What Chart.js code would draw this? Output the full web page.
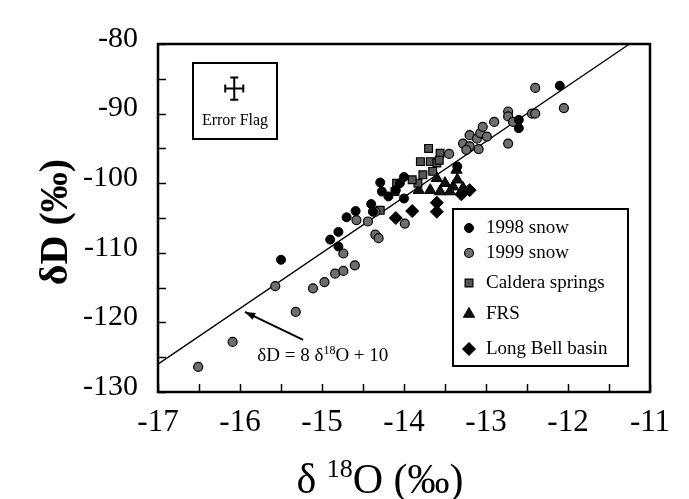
<!DOCTYPE html>
<html>
<head>
<meta charset="utf-8">
<script src="https://cdn.jsdelivr.net/npm/chart.js@4/dist/chart.umd.min.js"></script>
<style>
  body { margin: 0; background: #fff; }
  canvas { display: block; }
</style>
</head>
<body>
<canvas id="iso" width="689" height="499"></canvas>
<script>
// d18O (x) / dD (y) pairs
const snow98X = [-12.1, -12.6, -12.6, -13.35, -14.0, -14.0, -14.1, -14.19, -14.27, -14.29, -14.38, -14.4, -14.59, -14.7, -14.8, -14.9, -14.8, -15.5, -14.05];
const snow98Y = [-86.0, -90.9, -92.1, -97.6, -99.1, -102.2, -101.0, -101.9, -101.2, -99.9, -104.1, -103.0, -104.0, -104.9, -107.0, -108.1, -109.1, -111.0, -100.0];

const snow99X = [-16.51, -16.09, -15.57, -15.32, -15.11, -14.97, -14.84, -14.74, -14.6, -14.74, -14.35, -14.31, -14.58, -14.44, -13.99, -14.35,
  -13.28, -13.2, -13.11, -13.07, -12.99, -13.2, -13.09, -13.24, -13.04, -12.9, -12.73, -12.73, -12.67, -12.73, -12.44, -12.4, -12.4, -12.05, -13.45];
const snow99Y = [-126.4, -122.8, -114.8, -118.5, -115.1, -114.2, -113.0, -112.6, -111.8, -110.1, -107.4, -107.9, -105.3, -105.5, -105.8, -104.1,
  -94.3, -93.1, -93.6, -92.8, -93.3, -94.7, -95.1, -95.2, -91.9, -91.2, -89.7, -90.4, -91.2, -94.3, -90.0, -90.0, -86.3, -89.2, -95.8];

const calderaX = [-13.7, -13.56, -13.8, -13.68, -13.6, -13.77, -13.83, -14.09, -14.11, -14.29, -13.65, -13.9, -13.57];
const calderaY = [-95.0, -95.7, -96.9, -96.9, -97.1, -98.8, -100.0, -100.0, -101.2, -103.9, -98.3, -99.5, -96.7];

const frsX = [-13.36, -13.6, -13.5, -13.4, -13.28, -13.56, -13.44, -13.68, -13.82, -13.35];
const frsY = [-98.1, -99.3, -100.0, -100.5, -100.7, -101.2, -101.2, -101.0, -101.0, -99.5];

const longBellX = [-14.1, -13.9, -13.6, -13.6, -13.2, -13.3];
const longBellY = [-105.0, -104.0, -104.1, -102.8, -101.0, -101.6];

// meteoric water line dD = 8 d18O + 10, end points
const mwlX = [-17, -11.25];
const mwlY = [-126, -80];

// error flag (centre and half widths) and equation label spots
const errFlag = { x: -16.07, y: -86.4, dx: 0.11, dy: 1.6 };
const arrowTip = [-15.94, -118.5];
const arrowTail = [-15.23, -122.5];
const eqnAt = [-14.99, -124.7];

const xTicks = [-17, -16, -15, -14, -13, -12, -11];
const yTicks = [-80, -90, -100, -110, -120, -130];

const pts = (xs, ys) => xs.map((x, i) => ({ x: x, y: ys[i] }));
const serif = "'Liberation Serif', 'Times New Roman', serif";

const framePlugin = {
  id: "frame",
  beforeDatasetsDraw(chart) {
    const ctx = chart.ctx, a = chart.chartArea;
    const xs = chart.scales.x, ys = chart.scales.y;
    ctx.save();
    ctx.strokeStyle = "#000";
    ctx.lineWidth = 1.5;
    xs.ticks.forEach(t => {
      const px = Math.round(xs.getPixelForValue(t.value)) + 0.5;
      ctx.beginPath(); ctx.moveTo(px, a.bottom); ctx.lineTo(px, a.bottom - 8); ctx.stroke();
    });
    ys.ticks.forEach(t => {
      const py = Math.round(ys.getPixelForValue(t.value)) + 0.5;
      ctx.beginPath(); ctx.moveTo(a.left, py); ctx.lineTo(a.left + 8, py); ctx.stroke();
    });
    ctx.lineWidth = 2.5;
    ctx.strokeRect(a.left, a.top, a.right - a.left, a.bottom - a.top);
    ctx.restore();
  },
  afterDraw(chart) {
    const ctx = chart.ctx, a = chart.chartArea;
    const xs = chart.scales.x, ys = chart.scales.y;
    ctx.save();
    ctx.fillStyle = "#000";
    ctx.strokeStyle = "#000";

    // error flag box
    const cx = xs.getPixelForValue(errFlag.x), cy = ys.getPixelForValue(errFlag.y);
    ctx.lineWidth = 2;
    ctx.strokeRect(a.left + 35, a.top + 19, 84, 76);
    const x0 = xs.getPixelForValue(errFlag.x - errFlag.dx), x1 = xs.getPixelForValue(errFlag.x + errFlag.dx);
    const y0 = ys.getPixelForValue(errFlag.y + errFlag.dy), y1 = ys.getPixelForValue(errFlag.y - errFlag.dy);
    ctx.lineWidth = 2;
    ctx.beginPath();
    ctx.moveTo(x0, cy); ctx.lineTo(x1, cy);
    ctx.moveTo(cx, y0); ctx.lineTo(cx, y1);
    ctx.moveTo(x0, cy - 4); ctx.lineTo(x0, cy + 4);
    ctx.moveTo(x1, cy - 4); ctx.lineTo(x1, cy + 4);
    ctx.moveTo(cx - 4, y0); ctx.lineTo(cx + 4, y0);
    ctx.moveTo(cx - 4, y1); ctx.lineTo(cx + 4, y1);
    ctx.stroke();
    ctx.font = "16px " + serif;
    ctx.textAlign = "center";
    ctx.textBaseline = "middle";
    ctx.fillText("Error Flag", a.left + 77, a.top + 77);

    // arrow to the line
    const tx = xs.getPixelForValue(arrowTip[0]), ty = ys.getPixelForValue(arrowTip[1]);
    const sx = xs.getPixelForValue(arrowTail[0]), sy = ys.getPixelForValue(arrowTail[1]);
    ctx.lineWidth = 2;
    ctx.beginPath(); ctx.moveTo(sx, sy); ctx.lineTo(tx, ty); ctx.stroke();
    const ang = Math.atan2(ty - sy, tx - sx);
    ctx.beginPath();
    ctx.moveTo(tx, ty);
    ctx.lineTo(tx - 11 * Math.cos(ang - 0.35), ty - 11 * Math.sin(ang - 0.35));
    ctx.lineTo(tx - 11 * Math.cos(ang + 0.35), ty - 11 * Math.sin(ang + 0.35));
    ctx.closePath(); ctx.fill();

    // equation with superscript
    const ex = xs.getPixelForValue(eqnAt[0]), ey = ys.getPixelForValue(eqnAt[1]);
    drawSup(ctx, [["δD = 8 δ", 19], ["18", 12, -7], ["O + 10", 19]], ex, ey + 6);

    // legend
    const lx = a.right - 197, ly = a.top + 165;
    ctx.lineWidth = 2;
    ctx.strokeRect(lx, ly, 175, 157);
    const rows = [19, 44, 74, 105, 140];
    chart.data.datasets.forEach((ds, i) => {
      if (i >= rows.length) return;
      const yy = ly + rows[i];
      ctx.fillStyle = ds.backgroundColor;
      ctx.strokeStyle = ds.borderColor;
      ctx.lineWidth = ds.borderWidth;
      Chart.helpers.drawPoint(ctx, {
        pointStyle: ds.pointStyle, radius: ds.pointRadius, rotation: 0, borderWidth: ds.borderWidth
      }, lx + 16, yy);
      ctx.fillStyle = "#000";
      ctx.font = "19px " + serif;
      ctx.textAlign = "left";
      ctx.textBaseline = "middle";
      ctx.fillText(ds.label, lx + 33, yy);
    });

    // axis titles
    ctx.fillStyle = "#000";
    ctx.textBaseline = "alphabetic";
    drawSup(ctx, [["δ ", 42], ["18", 26, -16], ["O (‰)", 42]], 380, 493);
    ctx.translate(53, 222);
    ctx.rotate(-Math.PI / 2);
    ctx.font = "bold 40px " + serif;
    ctx.textAlign = "center";
    ctx.fillText("δD (‰)", 0, 14);
    ctx.restore();
  }
};

function drawSup(ctx, parts, cx, baseY) {
  ctx.save();
  ctx.textAlign = "left";
  ctx.textBaseline = "alphabetic";
  let w = 0;
  parts.forEach(p => { ctx.font = p[1] + "px " + serif; w += ctx.measureText(p[0]).width; });
  let x = cx - w / 2;
  parts.forEach(p => {
    ctx.font = p[1] + "px " + serif;
    ctx.fillText(p[0], x, baseY + (p[2] || 0));
    x += ctx.measureText(p[0]).width;
  });
  ctx.restore();
}

const canvas = document.getElementById("iso");
const isoChart = new Chart(canvas.getContext("2d"), {
  type: "scatter",
  data: {
    datasets: [
      { label: "1998 snow", data: pts(snow98X, snow98Y), pointStyle: "circle", pointRadius: 4.5,
        backgroundColor: "#000", borderColor: "#000", borderWidth: 1 },
      { label: "1999 snow", data: pts(snow99X, snow99Y), pointStyle: "circle", pointRadius: 4.5,
        backgroundColor: "#6e6e6e", borderColor: "#000", borderWidth: 1.2 },
      { label: "Caldera springs", data: pts(calderaX, calderaY), pointStyle: "rect", pointRadius: 5.5,
        backgroundColor: "#555", borderColor: "#000", borderWidth: 1.2 },
      { label: "FRS", data: pts(frsX, frsY), pointStyle: "triangle", pointRadius: 6.5,
        backgroundColor: "#111", borderColor: "#000", borderWidth: 1 },
      { label: "Long Bell basin", data: pts(longBellX, longBellY), pointStyle: "rectRot", pointRadius: 6.5,
        backgroundColor: "#000", borderColor: "#000", borderWidth: 1 },
      { label: "MWL", type: "line", data: pts(mwlX, mwlY), borderColor: "#000", borderWidth: 1.3,
        pointRadius: 0, fill: false, order: 10 }
    ]
  },
  options: {
    responsive: false,
    animation: false,
    layout: { padding: { top: 44, right: 39, left: 0, bottom: 0 } },
    plugins: { legend: { display: false }, tooltip: { enabled: false } },
    scales: {
      x: {
        type: "linear", min: -17, max: -11,
        grid: { display: false }, border: { display: false },
        afterFit: s => { s.height = 107; },
        ticks: {
          stepSize: 0.5, autoSkip: false, maxRotation: 0, padding: 4,
          color: "#000", font: { family: serif, size: 31 },
          callback: v => xTicks.includes(v) ? String(v) : ""
        }
      },
      y: {
        type: "linear", min: -130, max: -80,
        grid: { display: false }, border: { display: false },
        afterFit: s => { s.width = 158; },
        ticks: {
          stepSize: 5, autoSkip: false, padding: 12, labelOffset: -5,
          color: "#000", font: { family: serif, size: 30 },
          callback: v => yTicks.includes(v) ? String(v) : ""
        }
      }
    }
  },
  plugins: [framePlugin]
});
</script>
</body>
</html>
